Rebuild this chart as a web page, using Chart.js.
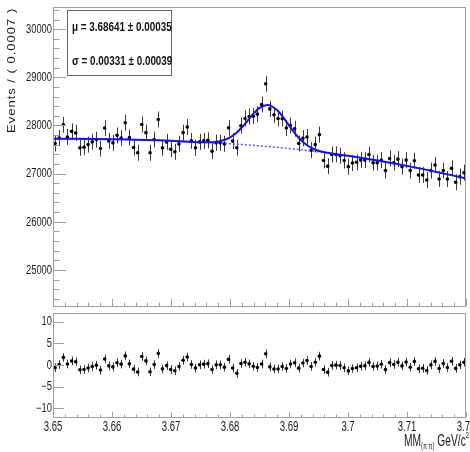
<!DOCTYPE html>
<html>
<head>
<meta charset="utf-8">
<script src="https://cdn.jsdelivr.net/npm/chart.js@4.4.1/dist/chart.umd.min.js"></script>
<style>
  body { margin: 0; background: #fff; }
  #wrap { position: relative; width: 470px; height: 452px; }
  canvas { position: absolute; left: 0; }
  #fitChart { top: 0; }
  #pullChart { top: 309px; }
</style>
</head>
<body>
<div id="wrap">
  <canvas id="fitChart" width="470" height="310"></canvas>
  <canvas id="pullChart" width="470" height="143"></canvas>
</div>
<script>
// binning: 100 bins of 0.0007 from 3.65
const binLow = 3.65;
const binWidth = 0.0007;

const events = [
  27624, 27740, 28014, 27761, 27877, 27844, 27535, 27547, 27603, 27658,
  27706, 27520, 27946, 27679, 27638, 27794, 27740, 28056, 27747, 27541,
  27432, 28021, 27850, 27432, 27706, 28124, 27535, 27658, 27506, 27453,
  27617, 27850, 27967, 27679, 27535, 27658, 27679, 27692, 27465, 27638,
  27638, 27617, 27950, 27675, 27538, 27995, 28145, 28185, 28193, 28235,
  28435, 28865, 28344, 28220, 28145, 28138, 27946, 28000, 27932, 27624,
  27735, 27761, 27486, 27603, 27809, 27273, 27155, 27397, 27397, 27370,
  27273, 27144, 27220, 27235, 27280, 27280, 27397, 27226, 27226, 27280,
  27062, 27315, 27226, 27300, 27144, 27280, 27062, 27266, 26971, 26971,
  26868, 27062, 27177, 26889, 27062, 26889, 27109, 26821, 26937, 27019
];
const eventErr = 166;

const pulls = [
  -0.61, 0.10, 1.75, 0.23, 0.94, 0.75, -1.11, -1.03, -0.69, -0.35,
  -0.05, -1.17, 1.40, -0.20, -0.44, 0.51, 0.20, 2.10, 0.27, -0.96,
  -1.60, 1.96, 0.95, -1.56, 0.10, 2.64, -0.90, -0.14, -1.04, -1.34,
  -0.33, 1.10, 1.84, 0.13, -0.72, 0.05, 0.20, 0.31, -1.04, 0.03,
  0.05, -0.50, 1.29, -0.69, -1.92, 0.33, 0.64, 0.27, -0.29, -0.56,
  0.24, 2.60, -0.44, -0.92, -0.91, -0.34, -0.80, 0.23, 0.51, -0.73,
  0.45, 1.02, -0.33, 0.63, 2.04, -1.05, -1.66, -0.11, -0.04, -0.13,
  -0.65, -1.36, -0.81, -0.64, -0.28, -0.19, 0.60, -0.34, -0.25, 0.16,
  -1.06, 0.55, 0.11, 0.64, -0.21, 0.70, -0.53, 0.81, -0.87, -0.75,
  -1.27, 0.02, 0.83, -0.82, 0.35, -0.59, 0.86, -0.79, 0.03, 0.65
];
const pullErr = 1;

// fit curve (signal + background)
const fitMass = [3.650, 3.660, 3.670, 3.675, 3.677, 3.678, 3.679, 3.680, 3.681, 3.682,
  3.683, 3.684, 3.685, 3.6864, 3.688, 3.689, 3.690, 3.691, 3.692, 3.693,
  3.694, 3.695, 3.696, 3.698, 3.700, 3.710, 3.720];
const fitTotal = [27726, 27712, 27680, 27652, 27653, 27666, 27697, 27753, 27839, 27958,
  28102, 28247, 28365, 28426, 28315, 28171, 28003, 27837, 27699, 27595,
  27523, 27475, 27443, 27402, 27370, 27160, 26900];

// background only (dashed)
const bgMass = [3.650, 3.660, 3.670, 3.680, 3.690, 3.700, 3.710, 3.720];
const bgLevel = [27726, 27712, 27680, 27620, 27520, 27370, 27160, 26900];

const massTicks = [3.65, 3.66, 3.67, 3.68, 3.69, 3.70, 3.71, 3.72];
const massTickLabels = ["3.65", "3.66", "3.67", "3.68", "3.69", "3.7", "3.71", "3.72"];
const eventTicks = [25000, 26000, 27000, 28000, 29000, 30000];
const pullTicks = [-10, -5, 0, 5, 10];
const pullTickLabels = ["\u221210", "\u22125", "0", "5", "10"];

const binCenter = (i) => binLow + (i + 0.5) * binWidth;
const eventPoints = events.map((v, i) => ({ x: binCenter(i), y: v }));
const pullPoints = pulls.map((v, i) => ({ x: binCenter(i), y: v }));

const FONT = '"Liberation Sans", Arial, sans-serif';
const SQ = 0.78; // the picture is squeezed horizontally

function squashText(ctx, str, x, y, sx) {
  ctx.save();
  ctx.translate(x, y);
  ctx.scale(sx, 1);
  ctx.fillText(str, 0, 0);
  ctx.restore();
}

const errorBars = {
  id: "errorBars",
  beforeDatasetsDraw(chart) {
    const { ctx, scales: { x, y } } = chart;
    chart.data.datasets.forEach((ds) => {
      if (!ds.errBar) return;
      ctx.save();
      ctx.strokeStyle = "#3a3a3a";
      ctx.lineWidth = 1;
      ctx.beginPath();
      ds.data.forEach((p) => {
        const px = Math.round(x.getPixelForValue(p.x)) + 0.5;
        ctx.moveTo(px, y.getPixelForValue(p.y - ds.errBar));
        ctx.lineTo(px, y.getPixelForValue(p.y + ds.errBar));
      });
      ctx.stroke();
      ctx.restore();
    });
  },
};

const rootAxes = {
  id: "rootAxes",
  afterDraw(chart, args, o) {
    const { ctx, chartArea: a, scales: { x, y } } = chart;
    ctx.save();
    ctx.strokeStyle = "#a0a0a0";
    ctx.lineWidth = 1;
    ctx.strokeRect(a.left + 0.5, a.top + 0.5, a.right - a.left - 1, a.bottom - a.top);

    // y ticks (inside, on the left)
    ctx.beginPath();
    for (let v = Math.ceil(y.min / o.yMinorStep) * o.yMinorStep; v <= y.max; v += o.yMinorStep) {
      const major = o.yTicks.some((t) => Math.abs(t - v) < 1e-6);
      if (!major && !o.yMinorLen) continue;
      const py = Math.round(y.getPixelForValue(v)) + 0.5;
      ctx.moveTo(a.left, py);
      ctx.lineTo(a.left + (major ? o.yMajorLen : o.yMinorLen), py);
    }
    // x ticks (inside, on the bottom)
    const xStep = 0.002;
    for (let k = 0; k <= Math.round((x.max - x.min) / xStep); k++) {
      const v = x.min + k * xStep;
      const major = k % 5 === 0;
      const px = Math.round(x.getPixelForValue(v)) + 0.5;
      ctx.moveTo(px, a.bottom);
      ctx.lineTo(px, a.bottom - (major ? o.xMajorLen : o.xMinorLen));
    }
    ctx.stroke();

    // y labels
    ctx.fillStyle = "#1a1a1a";
    ctx.font = "12px " + FONT;
    ctx.textAlign = "right";
    ctx.textBaseline = "middle";
    o.yTicks.forEach((t, i) => {
      squashText(ctx, o.yLabels[i], a.left - 1, y.getPixelForValue(t) + 0.5, SQ);
    });

    if (o.xLabels) {
      ctx.font = "14px " + FONT;
      ctx.textAlign = "center";
      ctx.textBaseline = "alphabetic";
      massTicks.forEach((t, i) => {
        squashText(ctx, massTickLabels[i], x.getPixelForValue(t), a.bottom + 14, 0.68);
      });
      // axis title: MM_{(pi pi)} GeV/c^2
      const parts = [
        { s: "MM", f: "16px ", dy: 0 },
        { s: "(\u03C0 \u03C0)", f: "9px ", dy: 3 },
        { s: " GeV/c", f: "16px ", dy: 0 },
        { s: "2", f: "9px ", dy: -8 },
      ];
      const tsq = 0.64;
      ctx.textAlign = "left";
      let total = 0;
      parts.forEach((p) => { ctx.font = p.f + FONT; p.w = ctx.measureText(p.s).width * tsq; total += p.w; });
      let cx = 469 - total;
      const base = a.bottom + 29;
      parts.forEach((p) => {
        ctx.font = p.f + FONT;
        squashText(ctx, p.s, cx, base + p.dy, tsq);
        cx += p.w;
      });
    }

    if (o.title) {
      ctx.save();
      ctx.font = "13px " + FONT;
      ctx.letterSpacing = "1px";
      ctx.textAlign = "left";
      ctx.textBaseline = "alphabetic";
      ctx.translate(15, 133);
      ctx.rotate(-Math.PI / 2);
      ctx.scale(1, SQ);
      ctx.fillText(o.title, 0, 0);
      ctx.restore();
    }

    if (o.statBox) {
      ctx.fillStyle = "#fff";
      ctx.fillRect(68, 11, 103, 64);
      ctx.strokeStyle = "#666";
      ctx.strokeRect(67.5, 10.5, 104, 65);
      ctx.fillStyle = "#111";
      ctx.font = "bold 13px " + FONT;
      ctx.textAlign = "left";
      ctx.textBaseline = "alphabetic";
      squashText(ctx, "\u03BC = 3.68641 \u00B1 0.00035", 72, 31, 0.76);
      squashText(ctx, "\u03C3 = 0.00331 \u00B1 0.00039", 72, 65, 0.76);
    }
    ctx.restore();
  },
};

Chart.defaults.font.family = FONT;

const baseOptions = (yMin, yMax, pad, axesOpts) => ({
  responsive: false,
  animation: false,
  devicePixelRatio: 1,
  events: [],
  layout: { padding: pad },
  scales: {
    x: { type: "linear", display: false, min: 3.65, max: 3.72 },
    y: { type: "linear", display: false, min: yMin, max: yMax },
  },
  plugins: { legend: { display: false }, tooltip: { enabled: false }, rootAxes: axesOpts },
});

new Chart(document.getElementById("fitChart"), {
  type: "scatter",
  data: {
    datasets: [
      {
        label: "fit",
        data: fitMass.map((m, i) => ({ x: m, y: fitTotal[i] })),
        showLine: true,
        borderColor: "#1010ff",
        borderWidth: 2,
        pointRadius: 0,
        cubicInterpolationMode: "monotone",
      },
      {
        label: "background",
        data: bgMass.map((m, i) => ({ x: m, y: bgLevel[i] })),
        showLine: true,
        borderColor: "#5555ff",
        borderWidth: 1.5,
        borderDash: [2, 2],
        pointRadius: 0,
        cubicInterpolationMode: "monotone",
      },
      {
        label: "data",
        data: eventPoints,
        errBar: eventErr,
        pointRadius: 1.8,
        pointBackgroundColor: "#000",
        pointBorderWidth: 0,
      },
    ],
  },
  options: baseOptions(24250, 30460, { left: 53, right: 2, top: 7, bottom: 1 }, {
    yTicks: eventTicks,
    yLabels: eventTicks.map(String),
    yMinorStep: 200,
    yMajorLen: 13,
    yMinorLen: 6.5,
    xMajorLen: 7,
    xMinorLen: 3.5,
    xLabels: false,
    title: "Events / ( 0.0007 )",
    statBox: true,
  }),
  plugins: [errorBars, rootAxes],
});

new Chart(document.getElementById("pullChart"), {
  type: "scatter",
  data: {
    datasets: [
      {
        label: "pull",
        data: pullPoints,
        errBar: pullErr,
        pointRadius: 1.8,
        pointBackgroundColor: "#000",
        pointBorderWidth: 0,
      },
    ],
  },
  options: baseOptions(-12, 12, { left: 53, right: 2, top: 0, bottom: 35 }, {
    yTicks: pullTicks,
    yLabels: pullTickLabels,
    yMinorStep: 5,
    yMajorLen: 11,
    yMinorLen: 0,
    xMajorLen: 5,
    xMinorLen: 2.5,
    xLabels: true,
  }),
  plugins: [errorBars, rootAxes],
});
</script>
</body>
</html>
